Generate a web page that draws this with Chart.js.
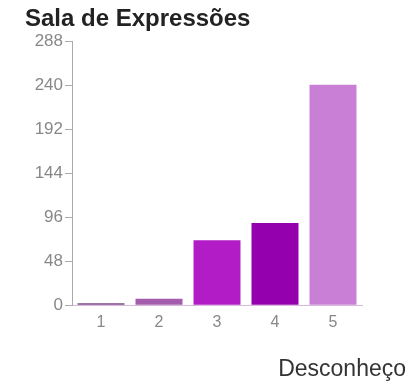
<!DOCTYPE html>
<html>
<head>
<meta charset="utf-8">
<script src="https://cdn.jsdelivr.net/npm/chart.js@4/dist/chart.umd.min.js"></script>
<style>
  html, body { margin: 0; padding: 0; background: #fff; }
  #box { width: 416px; height: 383px; }
</style>
</head>
<body>
<div id="box"><canvas id="grafico"></canvas></div>
<script>
// dados
const categorias = ['1', '2', '3', '4', '5'];
const respostas = [2, 7, 71, 90, 241];
const coresBarras = ['#7d4a85', '#a45cad', '#b21cc6', '#9400ad', '#c97fd5'];
const ticksY = [0, 48, 96, 144, 192, 240, 288];

const ctx = document.getElementById('grafico').getContext('2d');
const grafico = new Chart(ctx, {
    type: 'bar',
    data: {
        labels: categorias,
        datasets: [{
            data: respostas,
            backgroundColor: coresBarras,
            borderWidth: 0,
            barPercentage: 0.81,
            categoryPercentage: 1
        }]
    },
    options: {
        responsive: true,
        maintainAspectRatio: false,
        animation: false,
        layout: {
            padding: { left: 25, right: 10, top: 5, bottom: 0 }
        },
        plugins: {
            legend: { display: false },
            tooltip: { enabled: false },
            title: {
                display: true,
                text: 'Sala de Expressões',
                align: 'start',
                color: '#222',
                font: { family: 'Liberation Sans', size: 24, weight: 'bold' },
                padding: { top: 0, bottom: 8 }
            },
            subtitle: {
                display: true,
                position: 'bottom',
                text: 'Desconheço',
                align: 'end',
                color: '#333',
                font: { family: 'Liberation Sans', size: 23 },
                padding: { top: 15, bottom: 0 }
            }
        },
        scales: {
            x: {
                grid: { display: false, drawTicks: false },
                border: { color: '#d9b8de' },
                ticks: {
                    color: '#888',
                    padding: 8,
                    font: { family: 'Liberation Sans', size: 16 }
                }
            },
            y: {
                min: 0,
                max: 288,
                afterBuildTicks: function (eixo) {
                    eixo.ticks = ticksY.map(v => ({ value: v }));
                },
                afterFit: function (eixo) {
                    eixo.width = 47;
                },
                grid: {
                    display: true,
                    drawOnChartArea: false,
                    drawTicks: true,
                    tickLength: 7,
                    color: '#aaa'
                },
                border: { color: '#aaa' },
                ticks: {
                    color: '#888',
                    padding: 2,
                    font: { family: 'Liberation Sans', size: 17 }
                }
            },
            espaco: {
                position: 'right',
                grid: { display: false, drawTicks: false },
                border: { display: false },
                ticks: { display: false },
                afterFit: function (eixo) {
                    eixo.width = 44;
                }
            }
        }
    }
});
</script>
</body>
</html>
